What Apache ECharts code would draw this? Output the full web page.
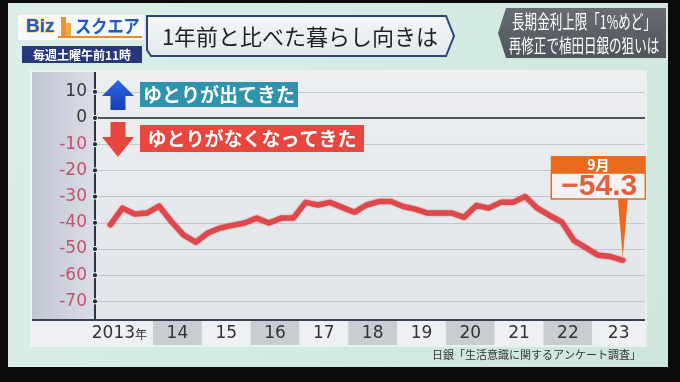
<!DOCTYPE html>
<html><head><meta charset="utf-8">
<script src="https://cdn.jsdelivr.net/npm/echarts@6/dist/echarts.min.js"></script>
<style>html,body{margin:0;padding:0;background:#0b0b0b}#c{width:680px;height:382px}</style>
</head><body><div id="c"></div>
<script>
// ---- data ----
const periods = [
 '2013-03','2013-06','2013-09','2013-12',
 '2014-03','2014-06','2014-09','2014-12',
 '2015-03','2015-06','2015-09','2015-12',
 '2016-03','2016-06','2016-09','2016-12',
 '2017-03','2017-06','2017-09','2017-12',
 '2018-03','2018-06','2018-09','2018-12',
 '2019-03','2019-06','2019-09','2019-12',
 '2020-03','2020-06','2020-09','2020-12',
 '2021-03','2021-06','2021-09','2021-12',
 '2022-03','2022-06','2022-09','2022-12',
 '2023-03','2023-06','2023-09'
];
const values = [
 -40.8,-34.4,-36.6,-36.3,
 -33.6,-39.5,-44.6,-47.4,
 -43.9,-42.0,-41.0,-40.1,
 -38.2,-40.1,-38.2,-38.2,
 -32.2,-33.2,-32.2,-34.1,
 -36.0,-33.2,-31.9,-31.9,
 -33.8,-34.8,-36.3,-36.3,
 -36.3,-37.9,-33.4,-34.4,
 -32.2,-32.2,-30.0,-34.4,
 -37.2,-39.7,-46.8,-49.6,
 -52.4,-52.9,-54.3
];
const yearLabels = ['2013','14','15','16','17','18','19','20','21','22','23'];
const yearStart = 2013;
const yTicks = [10,0,-10,-20,-30,-40,-50,-60,-70];
const titleText = '1年前と比べた暮らし向きは';
const sideText = ['長期金利上限「1%めど」','再修正で植田日銀の狙いは'];
const upLabel = 'ゆとりが出てきた';
const downLabel = 'ゆとりがなくなってきた';
const sourceText = '日銀「生活意識に関するアンケート調査」';

// quarter centre position in years
const xs = periods.map(p => { const [y, m] = p.split('-').map(Number); return y + (m - 1.5) / 12; });
const seriesData = xs.map((x, i) => [x, values[i]]);

const JP = '"Noto Sans CJK JP", sans-serif';
const NUM = '"DejaVu Sans", sans-serif';
const PLOT_L = 95, PLOT_R = 645, PLOT_T = 72, PLOT_B = 320, BAND_B = 345, PANEL_L = 32;

const chart = echarts.init(document.getElementById('c'), null, {renderer: 'canvas'});

const splitColors = [];
for (let v = -80; v <= 20; v += 10) splitColors.push((v === -80 || v === 20) ? 'rgba(0,0,0,0)' : '#c3c7cc');

chart.setOption({
  animation: false,
  backgroundColor: '#0b0b0b',
  grid: {left: PLOT_L, right: 680 - PLOT_R, top: 65.6, bottom: 382 - 327.6, containLabel: false},
  xAxis: {
    type: 'value', min: 2012.8115, max: 2024.08,
    axisLine: {show: false}, axisTick: {show: false}, axisLabel: {show: false}, splitLine: {show: false}
  },
  yAxis: {
    type: 'value', min: -80, max: 20, interval: 10,
    axisLine: {show: false}, axisTick: {show: false},
    axisLabel: {
      showMinLabel: false, showMaxLabel: false, margin: 8,
      fontFamily: NUM, fontSize: 17,
      color: v => (Number(v) >= 0 ? '#383838' : '#c4506c')
    },
    splitLine: {show: true, lineStyle: {color: splitColors, width: 1.2}}
  },
  series: [{
    type: 'line', data: seriesData, symbol: 'none', z: 5,
    lineStyle: {color: '#e0474b', width: 5.5, join: 'round', cap: 'round',
      shadowColor: 'rgba(140,20,20,0.45)', shadowBlur: 2},
    markLine: {silent: true, symbol: 'none', label: {show: false},
      lineStyle: {color: '#4f545c', width: 2, type: 'solid'}, data: [{yAxis: 0}]}
  }]
});

// ---- decoration & annotations, positioned through the axes ----
const px = (x, y) => chart.convertToPixel({gridIndex: 0}, [x, y]);
const els = [];
const T = (text, x, y, o) => Object.assign({type: 'text', z: o.z || 60, style: Object.assign({text, x, y, textAlign: o.align || 'left', align: o.align || 'left', textVerticalAlign: 'middle', verticalAlign: 'middle'}, o.style)}, o.extra || {});
const TS = (text, x, y, sx, align, style, z) => ({type: 'text', z: z || 61, x, y, scaleX: sx,
  style: Object.assign({text, x: 0, y: 0, textAlign: align, align, textVerticalAlign: 'middle', verticalAlign: 'middle'}, style)});

// backgrounds
els.push({type: 'rect', z: -20, shape: {x: 0, y: 0, width: 680, height: 382}, style: {fill: '#0b0b0b'}});
els.push({type: 'rect', z: -19, shape: {x: 8, y: 3, width: 660, height: 364},
  style: {fill: new echarts.graphic.LinearGradient(0, 0, 1, 1, [{offset: 0, color: '#dcefe9'}, {offset: 0.5, color: '#d3ebe3'}, {offset: 1, color: '#cfe6dc'}])}});
els.push({type: 'rect', z: -18, shape: {x: PANEL_L - 2, y: PLOT_T - 2, width: PLOT_R - PANEL_L + 4, height: BAND_B - PLOT_T + 4},
  style: {fill: 'rgba(255,255,255,0.45)'}});
els.push({type: 'rect', z: -17, shape: {x: PANEL_L, y: PLOT_T, width: PLOT_L - PANEL_L, height: PLOT_B - PLOT_T},
  style: {fill: new echarts.graphic.LinearGradient(0, 0, 1, 0, [{offset: 0, color: '#c1c6d4'}, {offset: 1, color: '#dadde4'}])}});
els.push({type: 'rect', z: -17, shape: {x: PLOT_L, y: PLOT_T, width: PLOT_R - PLOT_L, height: PLOT_B - PLOT_T},
  style: {fill: new echarts.graphic.LinearGradient(0, 0, 0, 1, [{offset: 0, color: '#eceef0'}, {offset: 1, color: '#e2e5e9'}])}});

// year band
const edge = yearLabels.map((_, i) => px(yearStart + i, 0)[0]);
yearLabels.forEach((lab, i) => {
  const x0 = i === 0 ? PANEL_L : edge[i];
  const x1 = i === yearLabels.length - 1 ? PLOT_R : edge[i + 1];
  els.push({type: 'rect', z: 40, shape: {x: x0, y: PLOT_B, width: x1 - x0, height: BAND_B - PLOT_B},
    style: {fill: i % 2 === 0 ? '#eef0f3' : '#c9ccd1'}});
  const cy = (PLOT_B + BAND_B) / 2 + 1;
  if (i === 0) {
    els.push(T('年', x1 - 6, cy + 1, {align: 'right', style: {font: '12px ' + JP, fill: '#333'}}));
    els.push(T(lab, x1 - 18, cy, {align: 'right', style: {font: '17px ' + NUM, fill: '#333'}}));
  } else {
    els.push(T(lab, (x0 + x1) / 2, cy, {align: 'center', style: {font: '17px ' + NUM, fill: '#333'}}));
  }
});
// axes lines
els.push({type: 'line', z: 45, shape: {x1: PANEL_L, y1: PLOT_B, x2: PLOT_R, y2: PLOT_B}, style: {stroke: '#3b4150', lineWidth: 2}});
els.push({type: 'line', z: 45, shape: {x1: PLOT_L, y1: PLOT_T, x2: PLOT_L, y2: PLOT_B}, style: {stroke: '#2c3446', lineWidth: 2}});
yTicks.forEach(v => {
  const p = px(2013, v);
  els.push({type: 'circle', z: 46, shape: {cx: PLOT_L, cy: p[1], r: 2.6}, style: {fill: '#222a3a', stroke: '#ffffff', lineWidth: 1}});
});

// arrows + labels
els.push({type: 'polygon', z: 50, shape: {points: [[118, 80], [134, 96], [125.5, 96], [125.5, 110], [110.5, 110], [110.5, 96], [102, 96]]},
  style: {fill: new echarts.graphic.LinearGradient(0, 0, 0, 1, [{offset: 0, color: '#2a66e0'}, {offset: 1, color: '#1440b8'}])}});
els.push({type: 'rect', z: 50, shape: {x: 140, y: 82, width: 158, height: 25}, style: {fill: '#2e93ad'}});
els.push(T(upLabel, 219, 95, {align: 'center', style: {font: 'bold 19px ' + JP, fill: '#ffffff'}}));
els.push({type: 'polygon', z: 50, shape: {points: [[110.5, 122], [125.5, 122], [125.5, 137], [134, 137], [118, 157], [102, 137], [110.5, 137]]},
  style: {fill: '#e8463f'}});
els.push({type: 'rect', z: 50, shape: {x: 140, y: 125, width: 224, height: 27}, style: {fill: '#e8463f'}});
els.push(T(downLabel, 252, 139, {align: 'center', style: {font: 'bold 19px ' + JP, fill: '#ffffff'}}));

// callout on last point
const last = seriesData[seriesData.length - 1];
const lp = chart.convertToPixel({seriesIndex: 0}, last);
const month = Number(periods[periods.length - 1].split('-')[1]);
const bx = lp[0] - 72, bw = 95;
els.push({type: 'polygon', z: 55, shape: {points: [[lp[0] - 5, 199], [lp[0] + 5, 199], [lp[0], lp[1] - 3]]}, style: {fill: '#ea6a1e'}});
els.push({type: 'rect', z: 56, shape: {x: bx, y: 156, width: bw, height: 17}, style: {fill: '#ea6a1e'}});
els.push({type: 'rect', z: 56, shape: {x: bx + 0.5, y: 173, width: bw - 1, height: 26}, style: {fill: '#f3f3f4', stroke: '#ea6a1e', lineWidth: 1.5}});
els.push(T(month + '月', bx + bw / 2, 165, {align: 'center', z: 57, style: {font: 'bold 14px ' + JP, fill: '#ffffff'}}));
els.push(T('−' + Math.abs(last[1]).toFixed(1), bx + bw / 2 + 1, 187, {align: 'center', z: 57, style: {font: 'bold 30px "Liberation Sans", sans-serif', fill: '#e2603c'}}));

// source
els.push(T(sourceText, 641, 355, {align: 'right', style: {font: '11px ' + JP, fill: '#333'}}));

// header: logo
els.push({type: 'rect', z: 60, shape: {x: 17, y: 14, width: 128, height: 27}, style: {fill: '#f7f9fb', stroke: '#d7dde2', lineWidth: 1}});
els.push(T('Biz', 26, 27, {style: {font: 'bold 19px "Liberation Sans", sans-serif', fill: '#1f5cc6', stroke: '#f2c040', lineWidth: 1}}));
els.push({type: 'rect', z: 61, shape: {x: 61, y: 17, width: 5, height: 21}, style: {fill: '#e99530'}});
els.push({type: 'rect', z: 61, shape: {x: 66, y: 23, width: 5, height: 15}, style: {fill: '#f0a840'}});
els.push(TS('スクエア', 75, 26, 0.9, 'left', {font: 'bold 18px ' + JP, fill: '#2257c4'}, 62));
els.push({type: 'rect', z: 61, shape: {x: 58, y: 36, width: 84, height: 2}, style: {fill: '#ee8a2a'}});
els.push({type: 'rect', z: 60, shape: {x: 22, y: 46, width: 120, height: 17}, style: {fill: '#27387a'}});
els.push(T('毎週土曜午前11時', 82, 55, {align: 'center', style: {font: 'bold 12px ' + JP, fill: '#ffffff'}}));

// header: title box
els.push({type: 'polygon', z: 60, shape: {points: [[147, 16], [446, 16], [454, 36], [446, 56], [151, 56], [147, 50]]},
  style: {fill: new echarts.graphic.LinearGradient(0, 0, 0, 1, [{offset: 0, color: '#f3f6f8'}, {offset: 1, color: '#e4e9ee'}]), stroke: '#2d4572', lineWidth: 2}});
els.push(TS(titleText, 300, 37, 1, 'center', {font: '22px ' + JP, fill: '#1f1f1f'}, 61));

// header: side box
els.push({type: 'polygon', z: 60, shape: {points: [[506, 8], [666, 8], [666, 58], [506, 58], [498, 33]]},
  style: {fill: new echarts.graphic.LinearGradient(0, 0, 0, 1, [{offset: 0, color: '#676c73'}, {offset: 1, color: '#50555c'}])}});
sideText.forEach((t, i) => {
  els.push(TS(t, 584, i === 0 ? 22 : 46, 0.66, 'center', {font: '19px ' + JP, fill: '#ffffff'}, 61));
});

chart.setOption({graphic: {elements: els}});
</script>
</body></html>
